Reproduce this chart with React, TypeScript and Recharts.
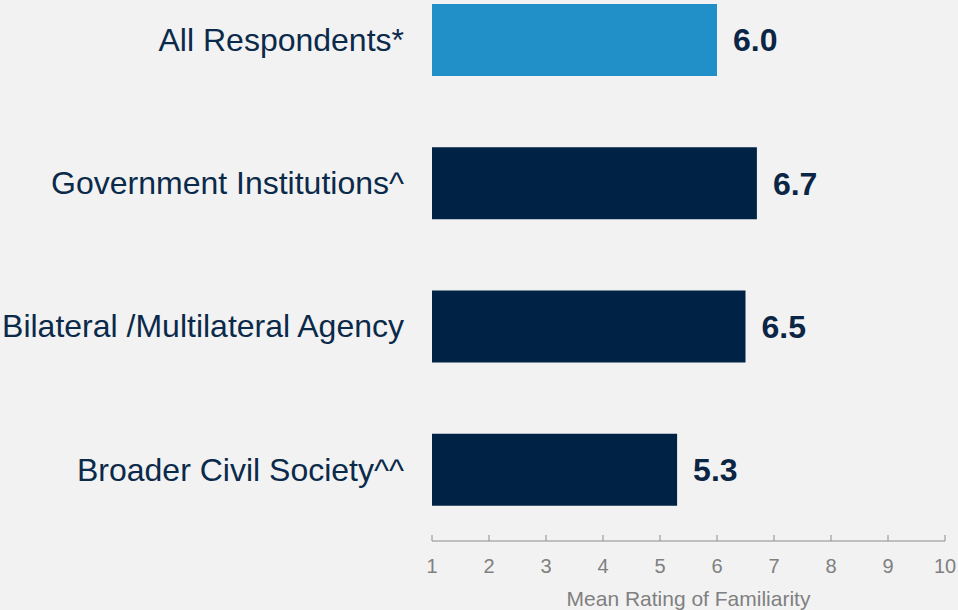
import { BarChart, Bar, XAxis, YAxis, Cell, LabelList } from 'recharts';

// Mean familiarity rating by respondent group
const groups = [
  'All Respondents*',
  'Government Institutions^',
  'Bilateral /Multilateral Agency',
  'Broader Civil Society^^',
];
const meanRatings = [6.0, 6.7, 6.5, 5.3];
const xTicks = [1, 2, 3, 4, 5, 6, 7, 8, 9, 10];
const highlightGroup = 'All Respondents*';

const data = groups.map((group, i) => ({ group, rating: meanRatings[i] }));

const FONT = '"Liberation Sans", Arial, sans-serif';

export default function App() {
  return (
    <div
      style={{
        position: 'absolute',
        top: 0,
        left: 0,
        width: 958,
        height: 610,
        overflow: 'hidden',
        background: '#f2f2f2',
        fontFamily: FONT,
      }}
    >
      <div style={{ position: 'absolute', top: -32, left: 0 }}>
        <BarChart
          width={958}
          height={642}
          data={data}
          layout="vertical"
          margin={{ top: 0, right: 13, bottom: 0, left: 0 }}
        >
          <XAxis
            type="number"
            dataKey="rating"
            domain={[1, 10]}
            ticks={xTicks}
            interval={0}
            height={69}
            stroke="#8c8c8c"
            tickSize={-6}
            tickMargin={24}
            tick={{ fill: '#808080', fontSize: 20, fontFamily: FONT }}
            label={{
              value: 'Mean Rating of Familiarity',
              position: 'insideBottom',
              offset: 4,
              fill: '#808080',
              fontSize: 21,
              fontFamily: FONT,
            }}
          />
          <YAxis
            type="category"
            dataKey="group"
            width={432}
            axisLine={false}
            tickLine={false}
            tickSize={0}
            tickMargin={28}
            tick={{ fill: '#0b2a4a', fontSize: 32, fontFamily: FONT }}
          />
          <Bar dataKey="rating" barSize={72} isAnimationActive={false}>
            {data.map((d) => (
              <Cell key={d.group} fill={d.group === highlightGroup ? '#2190c8' : '#002244'} />
            ))}
            <LabelList
              dataKey="rating"
              position="right"
              offset={16}
              formatter={(v: any) => Number(v).toFixed(1)}
              style={{ fill: '#0b2545', fontSize: 32, fontWeight: 'bold', fontFamily: FONT }}
            />
          </Bar>
        </BarChart>
      </div>
    </div>
  );
}
